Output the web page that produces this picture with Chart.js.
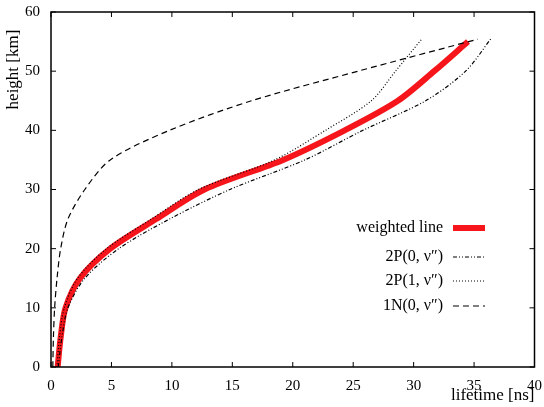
<!DOCTYPE html>
<html><head><meta charset="utf-8">
<script src="https://cdn.jsdelivr.net/npm/chart.js@4"></script>
<style>html,body{margin:0;padding:0;background:#fff}#c{display:block}</style>
</head><body>
<div style="width:544px;height:407px"><canvas id="c"></canvas></div>
<script>
const heights = [0,5,10,15,20,25,30,35,40,45,50,55];
const weighted = [0.55,0.8,1.2,2.4,4.9,8.7,12.7,19.2,24.3,28.7,31.7,34.5];
const p2_0 = [0.6,0.9,1.4,2.8,5.6,9.8,14.8,21.0,25.8,31.0,34.3,36.4];
const p2_1 = [0.5,0.7,1.1,2.2,4.6,8.3,12.2,18.5,22.7,26.5,28.5,30.7];
const n1_0 = [0.15,0.2,0.3,0.5,0.8,1.4,2.8,4.9,9.8,16.6,25.4,35.3];
const endH = [55,55.5,55.5,55.4];
const xTicks = [0,5,10,15,20,25,30,35,40];
const yTicks = [0,10,20,30,40,50,60];
const labels = ['weighted line','2P(0, \u03BD\u2033)','2P(1, \u03BD\u2033)','1N(0, \u03BD\u2033)'];
const FONT = '"Liberation Serif","DejaVu Serif",serif';
function pts(xs, last){ return xs.map((x,i)=>({x:x,y:i===xs.length-1?last:heights[i]})); }
const styles = [
 {c:'#f5151b',w:6,d:[]},
 {c:'#000',w:1.2,d:[4,2,1,2,1,2]},
 {c:'#000',w:1.2,d:[1,2]},
 {c:'#000',w:1.2,d:[6,4]}
];
const series=[weighted,p2_0,p2_1,n1_0];
const ds = series.map((s,i)=>({label:labels[i],data:pts(s,endH[i]),borderColor:styles[i].c,borderWidth:styles[i].w,borderDash:styles[i].d,pointRadius:0,tension:0.3,fill:false,order:4-i}));
const deco = {id:'deco',afterDraw(ch){
 const ctx=ch.ctx,a=ch.chartArea,x=ch.scales.x,y=ch.scales.y;
 ctx.save();ctx.strokeStyle='#000';ctx.lineWidth=1.5;ctx.setLineDash([]);
 ctx.strokeRect(a.left,a.top,a.right-a.left,a.bottom-a.top);
 ctx.lineWidth=1;
 xTicks.forEach(v=>{const p=x.getPixelForValue(v);ctx.beginPath();ctx.moveTo(p,a.bottom);ctx.lineTo(p,a.bottom-5);ctx.moveTo(p,a.top);ctx.lineTo(p,a.top+5);ctx.stroke();});
 yTicks.forEach(v=>{const p=y.getPixelForValue(v);ctx.beginPath();ctx.moveTo(a.left,p);ctx.lineTo(a.left+5,p);ctx.moveTo(a.right,p);ctx.lineTo(a.right-5,p);ctx.stroke();});
 ctx.fillStyle='#000';ctx.font='17px '+FONT;
 ctx.textAlign='right';ctx.textBaseline='middle';
 ctx.fillText('lifetime [ns]',a.right,396);
 ctx.save();ctx.translate(14,(a.top+a.bottom)/2-120);ctx.rotate(-Math.PI/2);ctx.textAlign='center';ctx.fillText('height [km]',0,0);ctx.restore();
 const rows=[228,257,281,306];
 ctx.font='16px '+FONT;
 rows.forEach((ry,i)=>{ctx.fillText(labels[i],443,ry);
  ctx.strokeStyle=styles[i].c;ctx.lineWidth=styles[i].w;ctx.setLineDash(styles[i].d);
  ctx.beginPath();ctx.moveTo(453,ry);ctx.lineTo(485,ry);ctx.stroke();});
 ctx.restore();
}};
new Chart(document.getElementById('c'),{type:'line',data:{datasets:ds},plugins:[deco],
options:{responsive:true,maintainAspectRatio:false,animation:false,
 layout:{padding:{top:7,right:9,left:0,bottom:0}},
 plugins:{legend:{display:false},tooltip:{enabled:false}},
 scales:{
  x:{type:'linear',min:0,max:40,afterBuildTicks(s){s.ticks=xTicks.map(v=>({value:v}));},
     grid:{display:false},border:{display:false},
     ticks:{color:'#000',font:{family:FONT,size:15},padding:2,maxRotation:0},
     afterFit(s){s.height=40;}},
  y:{type:'linear',min:0,max:60,afterBuildTicks(s){s.ticks=yTicks.map(v=>({value:v}));},
     grid:{display:false},border:{display:false},
     ticks:{color:'#000',font:{family:FONT,size:15},padding:3},
     afterFit(s){s.width=51;}}
 }}});
</script></body></html>
